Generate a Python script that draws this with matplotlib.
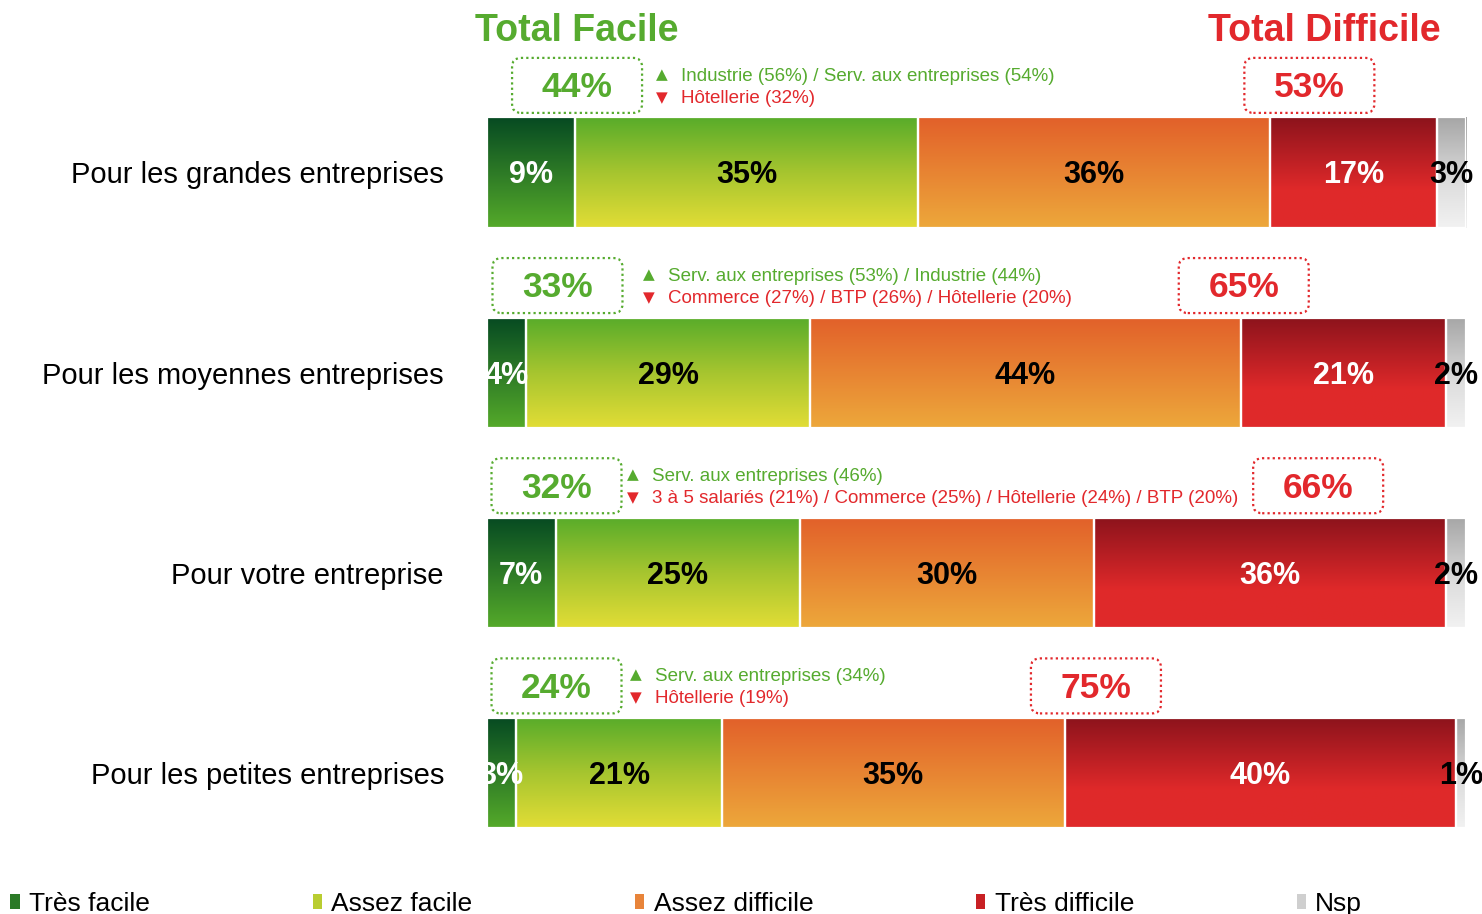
import numpy as np
import matplotlib.pyplot as plt
from matplotlib.colors import LinearSegmentedColormap
from matplotlib.patches import FancyBboxPatch, Patch
from matplotlib.transforms import IdentityTransform, ScaledTranslation

plt.rcParams['font.family'] = ['Liberation Sans', 'DejaVu Sans']

categories = ['Pour les grandes entreprises', 'Pour les moyennes entreprises',
              'Pour votre entreprise', 'Pour les petites entreprises']
series = ['Très facile', 'Assez facile', 'Assez difficile', 'Très difficile', 'Nsp']
tres_facile = [9, 4, 7, 3]
assez_facile = [35, 29, 25, 21]
assez_difficile = [36, 44, 30, 35]
tres_difficile = [17, 21, 36, 40]
nsp = [3, 2, 2, 1]

hausse = ['Industrie (56%) / Serv. aux entreprises (54%)',
          'Serv. aux entreprises (53%) / Industrie (44%)',
          'Serv. aux entreprises (46%)',
          'Serv. aux entreprises (34%)']
baisse = ['Hôtellerie (32%)',
          'Commerce (27%) / BTP (26%) / Hôtellerie (20%)',
          '3 à 5 salariés (21%) / Commerce (25%) / Hôtellerie (24%) / BTP (20%)',
          'Hôtellerie (19%)']

GREEN = '#56ab2f'
RED = '#e2282c'

# gradient stops, top of bar -> bottom of bar
gradients = [
    [(0, '#064a22'), (1, '#55aa2a')],
    [(0, '#58ac2a'), (0.5, '#a6c52f'), (1, '#e2dd36')],
    [(0, '#e2602a'), (1, '#eda83b')],
    [(0, '#8c131c'), (0.65, '#df292a'), (1, '#e02a2a')],
    [(0, '#a6a6a6'), (0.6, '#dedede'), (1, '#f2f2f2')],
]
label_colors = ['white', 'black', 'black', 'white', 'black']
legend_colors = ['#2b7a27', '#b9cd31', '#e8843a', '#c82024', '#cfcfcf']

# layout (data units on the 0-100 axis)
box_green_x = [9.2, 7.2, 7.1, 7.1]
box_red_x = [84.0, 77.3, 84.9, 62.2]
note_x = [17.9, 16.5, 14.9, 15.2]

W, H = 1482, 914
fig = plt.figure(figsize=(W / 100, H / 100), dpi=100)
ax = fig.add_axes([487 / W, 0.0229, 979 / W, 0.9417])

values = [tres_facile, assez_facile, assez_difficile, tres_difficile, nsp]
ypos = np.arange(len(categories))
grad = np.linspace(0, 1, 256).reshape(-1, 1)
left = np.zeros(len(categories))
for j, vals in enumerate(values):
    cmap = LinearSegmentedColormap.from_list(series[j], gradients[j])
    bars = ax.barh(ypos, vals, left=left, height=0.55, facecolor='none',
                   edgecolor='white', linewidth=1.6, zorder=3)
    for k, patch in enumerate(bars.patches):
        x0, y0 = patch.get_xy()
        w, h = patch.get_width(), patch.get_height()
        im = ax.imshow(grad, extent=[x0, x0 + w, y0 + h, y0], aspect='auto',
                       cmap=cmap, vmin=0, vmax=1, zorder=2, interpolation='bilinear')
        im.set_clip_path(patch)
        ax.text(x0 + w / 2, ypos[k] + 0.015, f'{vals[k]}%', ha='center', va='center',
                fontsize=22, fontweight='bold', color=label_colors[j], zorder=4)
    left += np.array(vals)

ax.set_xlim(0, 100)
ax.set_ylim(3.6, -0.7)
ax.set_yticks(ypos, categories, fontsize=21)
ax.tick_params(axis='y', length=0, pad=31)
ax.set_xticks([])
for s in ax.spines.values():
    s.set_visible(False)


def total_box(x, y, txt, color):
    tr = IdentityTransform() + ScaledTranslation(x, y, ax.transData)
    box = FancyBboxPatch((-65, -27.5), 130, 55, boxstyle='round,pad=0,rounding_size=9',
                         transform=tr, facecolor='white', edgecolor=color,
                         linewidth=1.6, linestyle=(0, (1, 1.4)), zorder=5, clip_on=False)
    ax.add_patch(box)
    ax.text(x, y + 0.012, txt, ha='center', va='center', fontsize=25.5, fontweight='bold',
            color=color, zorder=6)


for i in range(len(categories)):
    facile = tres_facile[i] + assez_facile[i]
    difficile = assez_difficile[i] + tres_difficile[i]
    total_box(box_green_x[i], i - 0.435, f'{facile}%', GREEN)
    total_box(box_red_x[i], i - 0.435, f'{difficile}%', RED)
    ax.text(note_x[i], i - 0.49, '▲', ha='center', va='center', fontsize=11,
            color=GREEN, family='DejaVu Sans')
    ax.text(note_x[i], i - 0.375, '▼', ha='center', va='center', fontsize=11,
            color=RED, family='DejaVu Sans')
    ax.text(note_x[i] + 1.95, i - 0.48, hausse[i], ha='left', va='center',
            fontsize=13.5, color=GREEN)
    ax.text(note_x[i] + 1.95, i - 0.37, baisse[i], ha='left', va='center',
            fontsize=13.5, color=RED)

ax.text(9.2, -0.705, 'Total Facile', ha='center', va='center', fontsize=27,
        fontweight='bold', color=GREEN)
ax.text(85.5, -0.705, 'Total Difficile', ha='center', va='center', fontsize=27,
        fontweight='bold', color=RED)

handles = [Patch(facecolor=c, edgecolor='none') for c in legend_colors]
fig.legend(handles, series, loc='center left', bbox_to_anchor=(0.007, 0.011),
           ncol=5, frameon=False, fontsize=19, handlelength=0.35, handleheight=0.5,
           handletextpad=0.36, columnspacing=6.16, borderaxespad=0, borderpad=0)

fig.savefig('out.png', dpi=100)
